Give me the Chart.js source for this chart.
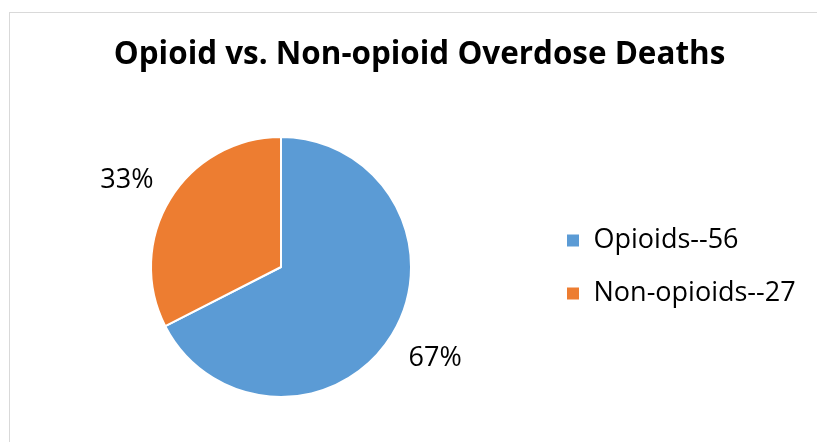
<!DOCTYPE html>
<html>
<head>
<meta charset="utf-8">
<script src="https://cdn.jsdelivr.net/npm/chart.js@4.4.0/dist/chart.umd.min.js"></script>
<style>
    html, body { margin: 0; padding: 0; background: #fff; overflow: hidden; }
    #frame { position: absolute; left: 9px; top: 12px; width: 900px; height: 500px; border: 1px solid #d9d9d9; }
    #chart { position: absolute; left: 0; top: 0; }
</style>
</head>
<body>
<div id="frame"></div>
<canvas id="chart" width="817" height="442"></canvas>
<script>
// Chart data
const categories = ['Opioids', 'Non-opioids'];
const deaths = [56, 27];
const sliceColors = ['#5B9BD5', '#ED7D31'];

const LEGEND_W = 277;

// Force a fixed legend width so the pie sits where it should
const legendWidthFix = {
    id: 'legendWidthFix',
    beforeInit(chart) {
        const origFit = chart.legend.fit;
        chart.legend.fit = function () {
            origFit.call(this);
            this.width = LEGEND_W;
        };
    }
};

// Percent labels outside each slice
const percentLabels = {
    id: 'percentLabels',
    afterDatasetsDraw(chart) {
        const ctx = chart.ctx;
        const data = chart.data.datasets[0].data;
        const total = data.reduce((a, b) => a + b, 0);
        const meta = chart.getDatasetMeta(0);
        ctx.save();
        ctx.font = '27px "Open Sans"';
        ctx.fillStyle = '#000';
        ctx.textAlign = 'center';
        ctx.textBaseline = 'middle';
        meta.data.forEach((arc, i) => {
            const p = arc.getProps(['x', 'y', 'startAngle', 'endAngle', 'outerRadius'], true);
            // label sits a touch before the slice middle, like the original
            const mid = (p.startAngle + p.endAngle) / 2 - 0.025;
            const dist = p.outerRadius + 48;
            const pct = Math.round(data[i] / total * 100) + '%';
            ctx.fillText(pct, p.x + Math.cos(mid) * dist, p.y + Math.sin(mid) * dist + 2);
        });
        ctx.restore();
    }
};

new Chart(document.getElementById('chart').getContext('2d'), {
    type: 'pie',
    data: {
        labels: categories.map((c, i) => c + '--' + deaths[i]),
        datasets: [{
            data: deaths,
            backgroundColor: sliceColors,
            borderColor: '#ffffff',
            borderWidth: 2
        }]
    },
    options: {
        responsive: false,
        animation: false,
        devicePixelRatio: 1,
        layout: {
            padding: { left: 22, right: 0, top: 0, bottom: 44 }
        },
        plugins: {
            title: {
                display: true,
                text: 'Opioid vs. Non-opioid Overdose Deaths',
                color: '#000',
                font: { family: 'Open Sans', size: 31.4, weight: 'bold' },
                padding: { top: 36, bottom: 62.3 }
            },
            legend: {
                position: 'right',
                fullSize: false,
                labels: {
                    color: '#000',
                    font: { family: 'Open Sans', size: 27 },
                    boxWidth: 14,
                    boxHeight: 14,
                    padding: 26
                }
            },
            tooltip: { enabled: false }
        }
    },
    plugins: [legendWidthFix, percentLabels]
});
</script>
</body>
</html>
